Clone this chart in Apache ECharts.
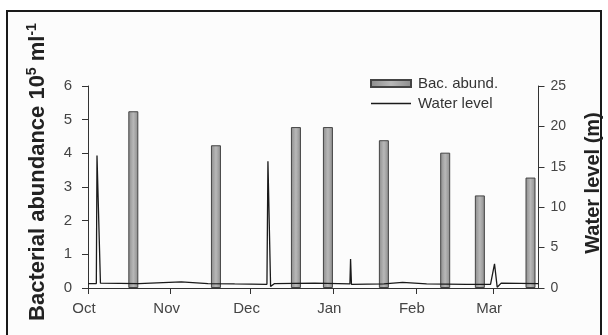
<!DOCTYPE html>
<html><head><meta charset="utf-8">
<script src="https://cdn.jsdelivr.net/npm/echarts@6/dist/echarts.min.js"></script>
<style>html,body{margin:0;padding:0;background:#fff}#c{width:608px;height:335px}</style>
</head><body><div id="c"></div>
<script>
// ---- data ----
const startDate = '2007-10-01';
const endDate = '2008-03-18';
const monthTicks = ['2007-10-01','2007-11-01','2007-12-01','2008-01-01','2008-02-01','2008-03-01'];
const monthLabels = ['Oct','Nov','Dec','Jan','Feb','Mar'];
const sampleDates = ['2007-10-18','2007-11-18','2007-12-18','2007-12-30','2008-01-20','2008-02-12','2008-02-25','2008-03-15'];
const bacAbund = [5.25, 4.24, 4.78, 4.78, 4.39, 4.02, 2.75, 3.28];
const levelDates = ['2007-10-01 00:00','2007-10-04 03:00','2007-10-04 09:00','2007-10-05 16:00','2007-10-20 00:00',
  '2007-11-05 00:00','2007-11-15 00:00','2007-11-25 00:00','2007-12-07 03:00','2007-12-07 12:00','2007-12-08 12:00',
  '2007-12-10 00:00','2007-12-25 00:00','2008-01-07 06:00','2008-01-07 12:00','2008-01-07 20:00','2008-01-20 00:00',
  '2008-01-27 00:00','2008-02-05 00:00','2008-02-20 00:00','2008-02-29 00:00','2008-03-01 12:00','2008-03-02 12:00',
  '2008-03-04 00:00','2008-03-18 00:00'];
const waterLevel = [0.55, 0.55, 16.4, 0.6, 0.55,
  0.75, 0.55, 0.5, 0.45, 15.7, 0.2,
  0.55, 0.6, 0.5, 3.6, 0.45, 0.5,
  0.7, 0.5, 0.45, 0.45, 3.0, 0.1,
  0.6, 0.55];
const leftTicks = [0, 1, 2, 3, 4, 5, 6];
const rightTicks = [0, 5, 10, 15, 20, 25];

// ---- helpers: date -> days since start ----
const t0 = +echarts.time.parse(startDate);
const dayOf = s => (+echarts.time.parse(s) - t0) / 86400000;
const tickDays = monthTicks.map(dayOf);

const chart = echarts.init(document.getElementById('c'), null, {renderer: 'canvas'});
const axisCol = '#333';
const labCol = '#444';
const font = 'Liberation Sans, Arial, sans-serif';

chart.setOption({
  animation: false,
  backgroundColor: '#fff',
  grid: {left: 88, right: 69.5, top: 86, bottom: 47},
  legend: {
    orient: 'vertical', left: 370, top: 76, padding: 0, itemWidth: 40, itemHeight: 7, itemGap: 5,
    textStyle: {fontSize: 15, color: '#333', fontFamily: font, padding: [0, 0, 0, 2]},
    data: [
      {name: 'Bac. abund.', icon: 'rect'},
      {name: 'Water level', icon: 'path://M0,0H40V1.3H0Z', itemStyle: {color: '#1a1a1a'}}
    ]
  },
  xAxis: {
    type: 'value',
    min: 0, max: dayOf(endDate),
    axisLine: {show: true, onZero: false, lineStyle: {color: axisCol, width: 1}},
    axisTick: {show: true, length: 6, customValues: tickDays, lineStyle: {color: axisCol}},
    axisLabel: {
      customValues: tickDays, fontSize: 15, color: labCol, fontFamily: font, margin: 13,
      padding: [0, 8, 0, 0],
      formatter: v => {
        let best = 0;
        tickDays.forEach((t, i) => { if (Math.abs(t - v) < Math.abs(tickDays[best] - v)) best = i; });
        return monthLabels[best];
      }
    },
    splitLine: {show: false}
  },
  yAxis: [{
    type: 'value', min: leftTicks[0], max: leftTicks[leftTicks.length - 1], interval: 1, position: 'left',
    axisLine: {show: true, lineStyle: {color: axisCol}},
    axisTick: {show: true, length: 6, lineStyle: {color: axisCol}},
    axisLabel: {fontSize: 15, color: labCol, fontFamily: font, margin: 16},
    splitLine: {show: false}
  }, {
    type: 'value', min: rightTicks[0], max: rightTicks[rightTicks.length - 1], interval: 5, position: 'right',
    axisLine: {show: true, lineStyle: {color: axisCol}},
    axisTick: {show: true, length: 6, lineStyle: {color: axisCol}},
    axisLabel: {fontSize: 14, color: labCol, fontFamily: font, margin: 12},
    splitLine: {show: false}
  }],
  series: [{
    name: 'Bac. abund.', type: 'bar', yAxisIndex: 0, barWidth: 10,
    itemStyle: {
      color: new echarts.graphic.LinearGradient(0, 0, 1, 0, [
        {offset: 0, color: '#8c8c8c'}, {offset: 0.5, color: '#b8b8b8'}, {offset: 1, color: '#8c8c8c'}]),
      borderColor: '#444', borderWidth: 1
    },
    data: sampleDates.map((d, i) => [dayOf(d), bacAbund[i]])
  }, {
    name: 'Water level', type: 'line', yAxisIndex: 1, symbol: 'none', z: 5,
    lineStyle: {color: '#1a1a1a', width: 1.3},
    itemStyle: {color: '#1a1a1a'},
    data: levelDates.map((d, i) => [dayOf(d), waterLevel[i]])
  }],
  graphic: [{
    type: 'rect', silent: true, z: -1,
    shape: {x: 7, y: 11, width: 594, height: 340},
    style: {fill: '#fcfcfc', stroke: '#1a1a1a', lineWidth: 2}
  }, {
    type: 'text', x: 37.5, y: 172, rotation: Math.PI / 2,
    style: {
      text: '{m|Bacterial abundance 10}{s|5}{m| ml}{s|-1}',
      align: 'center', verticalAlign: 'middle',
      rich: {
        m: {fontSize: 22, fontWeight: 'bold', fontFamily: font, fill: '#222', lineHeight: 26},
        s: {fontSize: 14, fontWeight: 'bold', fontFamily: font, fill: '#222', lineHeight: 26, padding: [0, 0, 10, 0]}
      }
    }
  }, {
    type: 'text', x: 593, y: 183, rotation: Math.PI / 2,
    style: {
      text: 'Water level (m)', align: 'center', verticalAlign: 'middle',
      fontSize: 20, fontWeight: 'bold', fontFamily: font, fill: '#222'
    }
  }]
});
</script></body></html>
